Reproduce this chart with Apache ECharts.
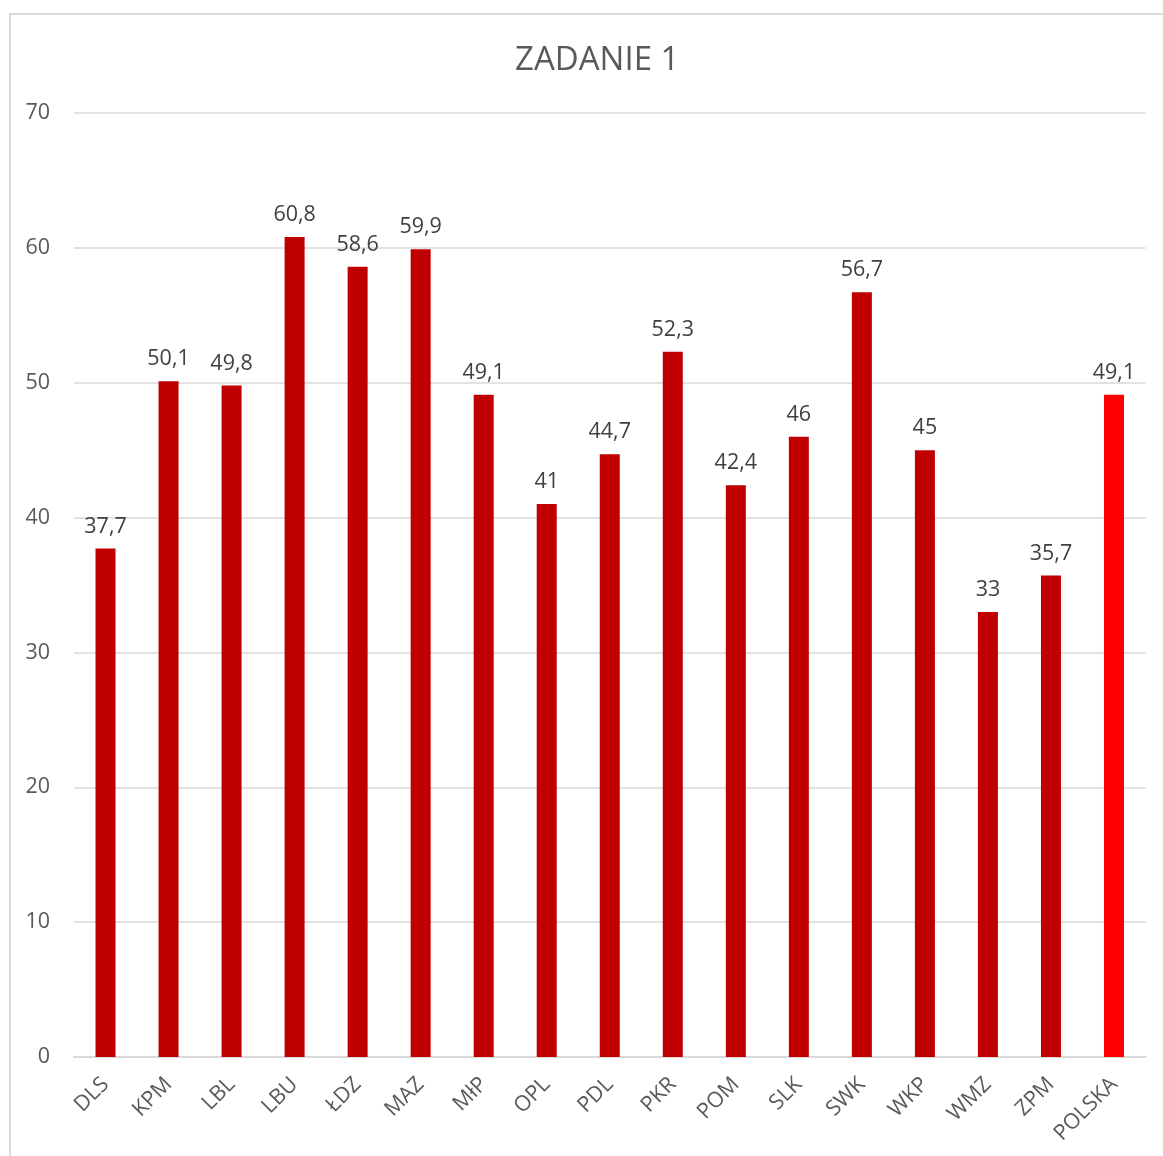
<!DOCTYPE html>
<html>
<head>
<meta charset="utf-8">
<script src="https://cdn.jsdelivr.net/npm/echarts@6/dist/echarts.min.js"></script>
<style>
html,body{margin:0;padding:0;background:#fff;}
#chart{width:1163px;height:1156px;}
</style>
</head>
<body>
<div id="chart"></div>
<script>
const categories = ['DLS','KPM','LBL','LBU','ŁDZ','MAZ','MłP','OPL','PDL','PKR','POM','SLK','SWK','WKP','WMZ','ZPM','POLSKA'];
const values = [37.7,50.1,49.8,60.8,58.6,59.9,49.1,41,44.7,52.3,42.4,46,56.7,45,33,35.7,49.1];
const highlight = 'POLSKA';
const titleText = 'ZADANIE 1';

const font = '"Open Sans", sans-serif';
const chart = echarts.init(document.getElementById('chart'));
chart.setOption({
  backgroundColor: '#fff',
  animation: false,
  title: {
    text: titleText, left: 510, top: 39,
    textStyle: {fontFamily: font, fontSize: 33, fontWeight: 'normal', color: '#595959'}
  },
  graphic: [{
    type: 'rect', silent: true,
    shape: {x: 10, y: 14, width: 1200, height: 1200},
    style: {fill: 'none', stroke: '#d9d9d9', lineWidth: 2}
  }],
  grid: {left: 74, right: 17.5, top: 113, bottom: 99, containLabel: false},
  xAxis: {
    type: 'category', data: categories,
    axisLine: {lineStyle: {color: '#d9d9d9', width: 2}},
    axisTick: {show: false},
    axisLabel: {rotate: 45, margin: 24, interval: 0, fontFamily: font, fontSize: 21.5, color: '#595959'}
  },
  yAxis: {
    type: 'value', min: 0, max: 70, interval: 10,
    axisLine: {show: false}, axisTick: {show: false},
    splitLine: {lineStyle: {color: '#d9d9d9', width: 1.5}},
    axisLabel: {margin: 24, fontFamily: font, fontSize: 21.5, color: '#595959'}
  },
  series: [{
    type: 'bar', barWidth: 20,
    data: values.map((v, i) => ({
      value: v,
      itemStyle: {color: categories[i] === highlight ? '#FF0000' : '#C00000'}
    })),
    label: {
      show: true, position: 'top', distance: 11,
      fontFamily: font, fontSize: 21.5, color: '#404040',
      formatter: p => String(p.value).replace('.', ',')
    }
  }]
});
</script>
</body>
</html>
